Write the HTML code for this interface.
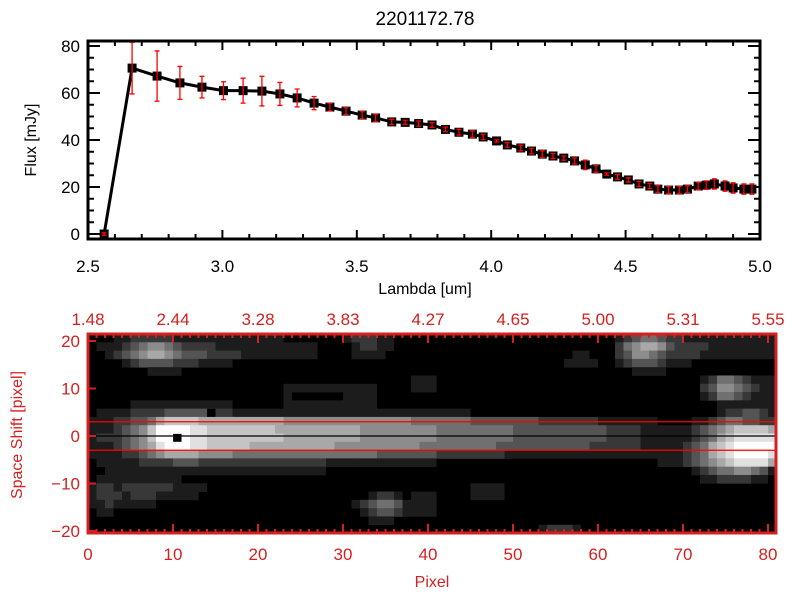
<!DOCTYPE html>
<html><head><meta charset="utf-8"><style>
body{margin:0;background:#fff}
svg{display:block;font-family:"Liberation Sans",sans-serif}
</style></head><body>
<svg id="c" width="800" height="600" viewBox="0 0 800 600">
<rect x="0" y="0" width="800" height="600" fill="#fff"/>
<text x="425" y="25" font-size="19" text-anchor="middle" fill="#000">2201172.78</text>
<g id="topg"></g>
<g id="bot"></g>
</svg>
<script>
const lambdas=[2.56,2.664,2.757,2.842,2.924,3.004,3.077,3.147,3.214,3.278,3.341,3.40,3.46,3.52,3.57,3.63,3.68,3.73,3.78,3.83,3.88,3.93,3.97,4.02,4.06,4.11,4.15,4.19,4.23,4.27,4.31,4.35,4.39,4.43,4.47,4.51,4.55,4.59,4.62,4.66,4.70,4.73,4.77,4.80,4.83,4.87,4.90,4.94,4.97];
const fluxes=[0,70.6,67.2,64.3,62.5,61,61,60.8,59.6,57.9,55.7,54,52.3,50.6,49.4,47.7,47.5,47,46.4,44.5,43.3,42.5,41.3,39.6,37.9,36.6,35.3,34,33.2,32.3,31.1,29.4,27.7,25.5,24.3,23,21.3,20.4,19.1,18.7,18.7,19.1,20.4,20.8,21.3,20.4,19.6,19.1,19.1];
const errors=[0.5,11,10.7,7,4.6,3.8,5.3,6.3,4.9,3.8,2.8,1.6,1.4,1.5,1.6,1.1,0.9,1.1,1,1,1.2,1.4,1.1,0.5,1,1.2,1.2,1.4,1.1,0.9,1.3,2,1.4,0.5,1,0.9,1.1,1.1,1.4,1.5,1.5,1.4,1.6,1.8,2.2,2.2,2.2,2.2,2.2];
const xTicks=["2.5","3.0","3.5","4.0","4.5","5.0"];
const yTicks=["0","20","40","60","80"];
const pixTicks=["0","10","20","30","40","50","60","70","80"];
const lamTop=["1.48","2.44","3.28","3.83","4.27","4.65","5.00","5.31","5.55"];
const shiftTicks=["20","10","0","-10","-20"];
const img=[
["000","11222221","1111111111","1100000001","2221100","00000000000000000","0000000","1234432","211111111111"],
["011","12345543","2222111111","1111110000","1221100","00000000000000000","0000000","2456653","222211111111"],
["001","23456654","3332222111","1111110000","1111000","00000000000000000","0011000","2355432","222111111111"],
["000","01233332","2211110000","0000000000","0000000","00000000000000000","0111100","1233321","110000000000"],
["000","00001111","0000000000","0000000000","0000000","00000000000000000","0000000","0011110","000000000000"],
["000","00000000","0000000000","0000000000","0000000","11100000000000000","0000000","0000000","000124432111"],
["000","00000000","0000000000","0011111111","1110000","11100000000000000","0000000","0000000","000235543211"],
["000","00000000","0000000000","0010000001","1110000","00000000000000000","0000000","0000000","000124432111"],
["000","00111111","1111110000","0011111111","1110000","00000000000000000","0000000","0000000","000001111111"],
["011","11222233","3330221111","1111111111","1111111","11111110000000000","0000000","0000000","000001223321"],
["111","22334677","7766666666","6655555555","5555555","44444443333333322","2222211","1111100","001123443322"],
["111","23457999","9887777777","7666666666","6555555","55544444444433333","3333332","2221111","112345677776"],
["122","23457990","9887777777","7766666666","6555555","55544444444433333","3333332","2221111","112346788888"],
["111","23456899","9887777766","6666666655","5555555","54444444443333333","3333222","2221111","123467899999"],
["111","12234566","6655554444","4444444444","4443333","33322222222111111","1111111","1111111","123467899998"],
["011","11122223","3322222222","2222222111","1111111","11100000000000000","0000000","0000011","123456788886"],
["001","11111111","1111111111","1111111000","0000000","00000000000000000","0000000","0000000","001234455431"],
["011","11111111","0000000000","0000000000","0000000","00000000000000000","0000000","0000000","000112222110"],
["122","12222221","1110000000","0000000000","0000000","00000001111000000","0000000","0000000","000000000000"],
["122","21222111","1100000000","0000000000","0012210","11100001111000000","0000000","0000000","000000000000"],
["112","11111000","0000000000","0000000000","1234431","11100000000000000","0000000","0000000","000000000000"],
["011","00000000","0000000000","0000000000","0123321","11100000000000000","0000000","0000000","000000000000"],
["000","00000000","0000000000","0000000000","0011100","00000000000000000","0000000","0000000","000000000000"],
["000","00000000","0000000000","0000000000","0000000","00000000000000012","2210000","0000000","000000000000"]
];
const NS='http://www.w3.org/2000/svg';
function mk(p,t,a){const e=document.createElementNS(NS,t);for(const k in a)e.setAttribute(k,a[k]);p.appendChild(e);return e;}
const X0=88,X1=760,Y0=234,YT=41,YB=239;
function sx(l){return X0+(l-2.5)*(X1-X0)/2.5;}
function sy(f){return Y0-f*2.35;}
const topG=document.getElementById('topg');
for(let i=0;i<=25;i++){const l=2.5+i*0.1;const x=sx(l);const L=(i%5==0)?9:5;
 let t=mk(topG,'line',{x1:x,y1:YB,x2:x,y2:YB-L,stroke:'#000','stroke-width':2});
 
 t=mk(topG,'line',{x1:x,y1:YT,x2:x,y2:YT+L,stroke:'#000','stroke-width':2});
 }
for(let i=0;i<=16;i++){const f=i*5;const y=sy(f);const L=(i%4==0)?12:6;
 let t=mk(topG,'line',{x1:X0,y1:y,x2:X0+L,y2:y,stroke:'#000','stroke-width':2});
 
 t=mk(topG,'line',{x1:X1,y1:y,x2:X1-L,y2:y,stroke:'#000','stroke-width':2});
 }
xTicks.forEach(s=>{const t=mk(topG,'text',{x:sx(parseFloat(s)),y:272,'font-size':17,'text-anchor':'middle'});t.textContent=s;
 });
yTicks.forEach(s=>{const t=mk(topG,'text',{x:80,y:sy(parseFloat(s))+6,'font-size':17,'text-anchor':'end'});t.textContent=s;
 });
let tt=mk(topG,'text',{x:425,y:294,'font-size':16,'text-anchor':'middle'});tt.textContent='Lambda [um]';

tt=mk(topG,'text',{x:36,y:140,'font-size':16,'text-anchor':'middle',transform:'rotate(-90 36 140)'});tt.textContent='Flux [mJy]';

let pl=mk(topG,'polyline',{points:lambdas.map((l,i)=>sx(l)+','+sy(fluxes[i])).join(' '),fill:'none',stroke:'#000','stroke-width':3});

lambdas.forEach((l,i)=>{const x=sx(l),y=sy(fluxes[i]);
 const m=mk(topG,'rect',{x:x-4.5,y:y-4.5,width:9,height:9,fill:'#000'});
 
 const e=errors[i]*2.35;const g=mk(topG,'path',{d:`M${x},${y-e}V${y+e}M${x-2.5},${y-e}H${x+2.5}M${x-2.5},${y+e}H${x+2.5}`,stroke:'#f00','stroke-width':1.3,fill:'none'});
 });
let fr=mk(topG,'rect',{x:X0,y:YT,width:X1-X0,height:YB-YT,fill:'none',stroke:'#000','stroke-width':3});

const bot=document.getElementById('bot');
const BX0=88,BX1=776,BY0=334,BY1=533;
function px(p){return 88+p*8.5;}
function py(s){return 436-s*4.75;}
const bg=mk(bot,'rect',{x:BX0,y:BY0,width:BX1-BX0,height:BY1-BY0,fill:'#000'});


const rh=(BY1-BY0)/img.length;
img.forEach((segs,r)=>{const row=segs.join('');for(let c=0;c<81;c++){const v=parseInt(row[c]||'0');if(!v)continue;const g=Math.min(255,v*28);
 const w=Math.min(8.6,BX1-px(c));
 const cell=mk(bot,'rect',{x:px(c),y:BY0+r*rh,width:w,height:rh+0.4,fill:`rgb(${g},${g},${g})`});
 }});
[[3,'#f00'],[-3,'#f00'],[0,'#000']].forEach(a=>{const l=mk(bot,'line',{x1:BX0,x2:BX1,y1:py(a[0]),y2:py(a[0]),stroke:a[1],'stroke-width':1.3});
 });
const R='#d42020';
for(let i=0;i<=80;i++){const x=px(i);const L=(i%10==0)?9:4;
 let t=mk(bot,'line',{x1:x,y1:BY1,x2:x,y2:BY1-L,stroke:R,'stroke-width':2});
 
 t=mk(bot,'line',{x1:x,y1:BY0,x2:x,y2:BY0+L,stroke:R,'stroke-width':2});
 }
shiftTicks.forEach(s=>{const y=py(parseFloat(s));
 let t=mk(bot,'line',{x1:BX0,x2:BX0+8,y1:y,y2:y,stroke:R,'stroke-width':2});
 
 t=mk(bot,'text',{x:80,y:y+6,'font-size':17,'text-anchor':'end',fill:R});t.textContent=s.replace('-','\u2212');
 });
pixTicks.forEach(s=>{const t=mk(bot,'text',{x:px(parseFloat(s)),y:560,'font-size':17,'text-anchor':'middle',fill:R});t.textContent=s;
 });
lamTop.forEach((s,i)=>{const t=mk(bot,'text',{x:px(i*10),y:325,'font-size':17,'text-anchor':'middle',fill:R});t.textContent=s;
 });
tt=mk(bot,'text',{x:432,y:587,'font-size':16,'text-anchor':'middle',fill:R});tt.textContent='Pixel';

tt=mk(bot,'text',{x:22,y:435,'font-size':16,'text-anchor':'middle',fill:R,transform:'rotate(-90 22 435)'});tt.textContent='Space Shift [pixel]';

fr=mk(bot,'rect',{x:BX0,y:BY0,width:BX1-BX0,height:BY1-BY0,fill:'none',stroke:R,'stroke-width':3});

</script>
</body></html>
